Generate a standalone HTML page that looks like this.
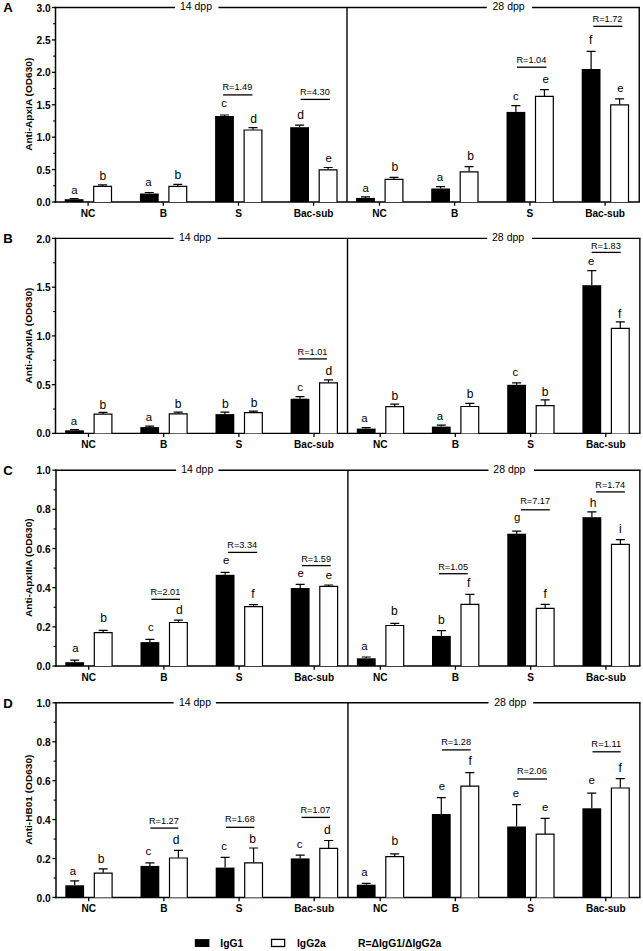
<!DOCTYPE html><html><head><meta charset="utf-8"><title>Figure</title>
<style>html,body{margin:0;padding:0;background:#fff}svg{display:block}text{font-family:"Liberation Sans",sans-serif;fill:#000}.b{font-weight:bold}</style></head><body>
<svg width="643" height="951" viewBox="0 0 643 951">
<rect width="643" height="951" fill="#fff"/>
<g>
<text class="b" x="3.2" y="12.4" font-size="13.2">A</text>
<line x1="54.75" y1="7.5" x2="175.00" y2="7.5" stroke="#000" stroke-width="1.4"/>
<line x1="218.40" y1="7.5" x2="486.80" y2="7.5" stroke="#000" stroke-width="1.4"/>
<line x1="532.00" y1="7.5" x2="639.95" y2="7.5" stroke="#000" stroke-width="1.4"/>
<text x="196.0" y="10.4" font-size="10.5" text-anchor="middle">14 dpp</text>
<text x="508.6" y="10.4" font-size="10.5" text-anchor="middle">28 dpp</text>
<line x1="55.50" y1="6.8" x2="55.50" y2="202.7" stroke="#000" stroke-width="1.5"/>
<line x1="347.00" y1="7.5" x2="347.00" y2="202.0" stroke="#000" stroke-width="1.4"/>
<line x1="639.25" y1="7.5" x2="639.25" y2="202.0" stroke="#000" stroke-width="1.4"/>
<line x1="54.75" y1="202.0" x2="639.95" y2="202.0" stroke="#000" stroke-width="1.4"/>
<line x1="51.90" y1="202.00" x2="55.50" y2="202.00" stroke="#000" stroke-width="1.3"/>
<text class="b" x="50.7" y="206.1" font-size="10.2" text-anchor="end">0.0</text>
<line x1="53.10" y1="185.79" x2="55.50" y2="185.79" stroke="#000" stroke-width="1.1"/>
<line x1="51.90" y1="169.58" x2="55.50" y2="169.58" stroke="#000" stroke-width="1.3"/>
<text class="b" x="50.7" y="173.6" font-size="10.2" text-anchor="end">0.5</text>
<line x1="53.10" y1="153.38" x2="55.50" y2="153.38" stroke="#000" stroke-width="1.1"/>
<line x1="51.90" y1="137.17" x2="55.50" y2="137.17" stroke="#000" stroke-width="1.3"/>
<text class="b" x="50.7" y="141.2" font-size="10.2" text-anchor="end">1.0</text>
<line x1="53.10" y1="120.96" x2="55.50" y2="120.96" stroke="#000" stroke-width="1.1"/>
<line x1="51.90" y1="104.75" x2="55.50" y2="104.75" stroke="#000" stroke-width="1.3"/>
<text class="b" x="50.7" y="108.8" font-size="10.2" text-anchor="end">1.5</text>
<line x1="53.10" y1="88.54" x2="55.50" y2="88.54" stroke="#000" stroke-width="1.1"/>
<line x1="51.90" y1="72.33" x2="55.50" y2="72.33" stroke="#000" stroke-width="1.3"/>
<text class="b" x="50.7" y="76.4" font-size="10.2" text-anchor="end">2.0</text>
<line x1="53.10" y1="56.13" x2="55.50" y2="56.13" stroke="#000" stroke-width="1.1"/>
<line x1="51.90" y1="39.92" x2="55.50" y2="39.92" stroke="#000" stroke-width="1.3"/>
<text class="b" x="50.7" y="44.0" font-size="10.2" text-anchor="end">2.5</text>
<line x1="53.10" y1="23.71" x2="55.50" y2="23.71" stroke="#000" stroke-width="1.1"/>
<line x1="51.90" y1="7.50" x2="55.50" y2="7.50" stroke="#000" stroke-width="1.3"/>
<text class="b" x="50.7" y="11.6" font-size="10.2" text-anchor="end">3.0</text>
<text class="b" transform="translate(31.5,104.3) rotate(-90) scale(1.085,1)" font-size="9.3" text-anchor="middle">Anti-ApxIA (OD630)</text>
<line x1="88.10" y1="202.0" x2="88.10" y2="205.70" stroke="#000" stroke-width="1.3"/>
<text class="b" x="88.10" y="216.7" font-size="10.1" text-anchor="middle">NC</text>
<line x1="163.30" y1="202.0" x2="163.30" y2="205.70" stroke="#000" stroke-width="1.3"/>
<text class="b" x="163.30" y="216.7" font-size="10.1" text-anchor="middle">B</text>
<line x1="238.50" y1="202.0" x2="238.50" y2="205.70" stroke="#000" stroke-width="1.3"/>
<text class="b" x="238.50" y="216.7" font-size="10.1" text-anchor="middle">S</text>
<line x1="313.60" y1="202.0" x2="313.60" y2="205.70" stroke="#000" stroke-width="1.3"/>
<text class="b" x="313.60" y="216.7" font-size="10.1" text-anchor="middle">Bac-sub</text>
<line x1="379.50" y1="202.0" x2="379.50" y2="205.70" stroke="#000" stroke-width="1.3"/>
<text class="b" x="379.50" y="216.7" font-size="10.1" text-anchor="middle">NC</text>
<line x1="454.60" y1="202.0" x2="454.60" y2="205.70" stroke="#000" stroke-width="1.3"/>
<text class="b" x="454.60" y="216.7" font-size="10.1" text-anchor="middle">B</text>
<line x1="529.90" y1="202.0" x2="529.90" y2="205.70" stroke="#000" stroke-width="1.3"/>
<text class="b" x="529.90" y="216.7" font-size="10.1" text-anchor="middle">S</text>
<line x1="605.10" y1="202.0" x2="605.10" y2="205.70" stroke="#000" stroke-width="1.3"/>
<text class="b" x="605.10" y="216.7" font-size="10.1" text-anchor="middle">Bac-sub</text>
<path d="M74.10 199.2V198.5M69.60 198.5H78.60" stroke="#000" stroke-width="1.2" fill="none"/>
<rect x="64.70" y="199.2" width="18.8" height="2.8" fill="#000"/>
<text x="74.4" y="193.5" font-size="11.4" text-anchor="middle">a</text>
<path d="M102.60 186.0V184.8M98.10 184.8H107.10" stroke="#000" stroke-width="1.2" fill="none"/>
<path d="M93.70 202.0V186.3H111.50V202.0" fill="#fff" stroke="#000" stroke-width="1.2"/>
<text x="102.8" y="179.8" font-size="12.1" text-anchor="middle">b</text>
<path d="M149.30 193.5V192.5M144.80 192.5H153.80" stroke="#000" stroke-width="1.2" fill="none"/>
<rect x="139.90" y="193.5" width="18.8" height="8.5" fill="#000"/>
<text x="148.3" y="186.0" font-size="11.4" text-anchor="middle">a</text>
<path d="M177.80 186.0V184.3M173.30 184.3H182.30" stroke="#000" stroke-width="1.2" fill="none"/>
<path d="M168.90 202.0V186.3H186.70V202.0" fill="#fff" stroke="#000" stroke-width="1.2"/>
<text x="177.9" y="179.3" font-size="12.1" text-anchor="middle">b</text>
<path d="M224.50 116.0V115.0M220.00 115.0H229.00" stroke="#000" stroke-width="1.2" fill="none"/>
<rect x="215.10" y="116.0" width="18.8" height="86.0" fill="#000"/>
<text x="224.1" y="107.3" font-size="11.4" text-anchor="middle">c</text>
<path d="M253.00 129.7V127.7M248.50 127.7H257.50" stroke="#000" stroke-width="1.2" fill="none"/>
<path d="M244.10 202.0V130.0H261.90V202.0" fill="#fff" stroke="#000" stroke-width="1.2"/>
<text x="253.5" y="122.7" font-size="12.1" text-anchor="middle">d</text>
<path d="M299.60 127.2V125.2M295.10 125.2H304.10" stroke="#000" stroke-width="1.2" fill="none"/>
<rect x="290.20" y="127.2" width="18.8" height="74.8" fill="#000"/>
<text x="300.7" y="119.0" font-size="12.1" text-anchor="middle">d</text>
<path d="M328.10 169.5V167.5M323.60 167.5H332.60" stroke="#000" stroke-width="1.2" fill="none"/>
<path d="M319.20 202.0V169.8H337.00V202.0" fill="#fff" stroke="#000" stroke-width="1.2"/>
<text x="328.6" y="161.5" font-size="11.4" text-anchor="middle">e</text>
<path d="M365.50 197.9V196.9M361.00 196.9H370.00" stroke="#000" stroke-width="1.2" fill="none"/>
<rect x="356.10" y="197.9" width="18.8" height="4.1" fill="#000"/>
<text x="365.6" y="191.7" font-size="11.4" text-anchor="middle">a</text>
<path d="M394.00 179.0V177.3M389.50 177.3H398.50" stroke="#000" stroke-width="1.2" fill="none"/>
<path d="M385.10 202.0V179.3H402.90V202.0" fill="#fff" stroke="#000" stroke-width="1.2"/>
<text x="394.8" y="171.0" font-size="12.1" text-anchor="middle">b</text>
<path d="M440.60 188.5V186.7M436.10 186.7H445.10" stroke="#000" stroke-width="1.2" fill="none"/>
<rect x="431.20" y="188.5" width="18.8" height="13.5" fill="#000"/>
<text x="440.0" y="181.0" font-size="11.4" text-anchor="middle">a</text>
<path d="M469.10 171.5V166.6M464.60 166.6H473.60" stroke="#000" stroke-width="1.2" fill="none"/>
<path d="M460.20 202.0V171.8H478.00V202.0" fill="#fff" stroke="#000" stroke-width="1.2"/>
<text x="470.6" y="160.3" font-size="12.1" text-anchor="middle">b</text>
<path d="M515.90 111.9V105.7M511.40 105.7H520.40" stroke="#000" stroke-width="1.2" fill="none"/>
<rect x="506.50" y="111.9" width="18.8" height="90.1" fill="#000"/>
<text x="515.8" y="99.5" font-size="11.4" text-anchor="middle">c</text>
<path d="M544.40 96.0V89.6M539.90 89.6H548.90" stroke="#000" stroke-width="1.2" fill="none"/>
<path d="M535.50 202.0V96.3H553.30V202.0" fill="#fff" stroke="#000" stroke-width="1.2"/>
<text x="545.7" y="83.2" font-size="11.4" text-anchor="middle">e</text>
<path d="M591.10 69.0V51.3M586.60 51.3H595.60" stroke="#000" stroke-width="1.2" fill="none"/>
<rect x="581.70" y="69.0" width="18.8" height="133.0" fill="#000"/>
<text x="590.7" y="44.3" font-size="12.1" text-anchor="middle">f</text>
<path d="M619.60 104.5V98.8M615.10 98.8H624.10" stroke="#000" stroke-width="1.2" fill="none"/>
<path d="M610.70 202.0V104.8H628.50V202.0" fill="#fff" stroke="#000" stroke-width="1.2"/>
<text x="620.3" y="92.0" font-size="11.4" text-anchor="middle">e</text>
</g>
<g>
<text class="b" x="3.2" y="243.3" font-size="13.2">B</text>
<line x1="54.75" y1="238.4" x2="173.60" y2="238.4" stroke="#000" stroke-width="1.4"/>
<line x1="217.70" y1="238.4" x2="487.20" y2="238.4" stroke="#000" stroke-width="1.4"/>
<line x1="532.00" y1="238.4" x2="640.55" y2="238.4" stroke="#000" stroke-width="1.4"/>
<text x="195.0" y="241.3" font-size="10.5" text-anchor="middle">14 dpp</text>
<text x="508.1" y="241.3" font-size="10.5" text-anchor="middle">28 dpp</text>
<line x1="55.50" y1="237.70000000000002" x2="55.50" y2="434.09999999999997" stroke="#000" stroke-width="1.5"/>
<line x1="347.50" y1="238.4" x2="347.50" y2="433.4" stroke="#000" stroke-width="1.4"/>
<line x1="639.85" y1="238.4" x2="639.85" y2="433.4" stroke="#000" stroke-width="1.4"/>
<line x1="54.75" y1="433.4" x2="640.55" y2="433.4" stroke="#000" stroke-width="1.4"/>
<line x1="51.90" y1="433.40" x2="55.50" y2="433.40" stroke="#000" stroke-width="1.3"/>
<text class="b" x="50.7" y="437.4" font-size="10.2" text-anchor="end">0.0</text>
<line x1="53.10" y1="409.02" x2="55.50" y2="409.02" stroke="#000" stroke-width="1.1"/>
<line x1="51.90" y1="384.65" x2="55.50" y2="384.65" stroke="#000" stroke-width="1.3"/>
<text class="b" x="50.7" y="388.7" font-size="10.2" text-anchor="end">0.5</text>
<line x1="53.10" y1="360.27" x2="55.50" y2="360.27" stroke="#000" stroke-width="1.1"/>
<line x1="51.90" y1="335.90" x2="55.50" y2="335.90" stroke="#000" stroke-width="1.3"/>
<text class="b" x="50.7" y="339.9" font-size="10.2" text-anchor="end">1.0</text>
<line x1="53.10" y1="311.52" x2="55.50" y2="311.52" stroke="#000" stroke-width="1.1"/>
<line x1="51.90" y1="287.15" x2="55.50" y2="287.15" stroke="#000" stroke-width="1.3"/>
<text class="b" x="50.7" y="291.2" font-size="10.2" text-anchor="end">1.5</text>
<line x1="53.10" y1="262.77" x2="55.50" y2="262.77" stroke="#000" stroke-width="1.1"/>
<line x1="51.90" y1="238.40" x2="55.50" y2="238.40" stroke="#000" stroke-width="1.3"/>
<text class="b" x="50.7" y="242.5" font-size="10.2" text-anchor="end">2.0</text>
<text class="b" transform="translate(31.5,335.5) rotate(-90) scale(1.085,1)" font-size="9.3" text-anchor="middle">Anti-ApxIIA (OD630)</text>
<line x1="88.50" y1="433.4" x2="88.50" y2="437.10" stroke="#000" stroke-width="1.3"/>
<text class="b" x="88.50" y="448.1" font-size="10.1" text-anchor="middle">NC</text>
<line x1="163.70" y1="433.4" x2="163.70" y2="437.10" stroke="#000" stroke-width="1.3"/>
<text class="b" x="163.70" y="448.1" font-size="10.1" text-anchor="middle">B</text>
<line x1="238.90" y1="433.4" x2="238.90" y2="437.10" stroke="#000" stroke-width="1.3"/>
<text class="b" x="238.90" y="448.1" font-size="10.1" text-anchor="middle">S</text>
<line x1="314.00" y1="433.4" x2="314.00" y2="437.10" stroke="#000" stroke-width="1.3"/>
<text class="b" x="314.00" y="448.1" font-size="10.1" text-anchor="middle">Bac-sub</text>
<line x1="380.20" y1="433.4" x2="380.20" y2="437.10" stroke="#000" stroke-width="1.3"/>
<text class="b" x="380.20" y="448.1" font-size="10.1" text-anchor="middle">NC</text>
<line x1="455.30" y1="433.4" x2="455.30" y2="437.10" stroke="#000" stroke-width="1.3"/>
<text class="b" x="455.30" y="448.1" font-size="10.1" text-anchor="middle">B</text>
<line x1="530.60" y1="433.4" x2="530.60" y2="437.10" stroke="#000" stroke-width="1.3"/>
<text class="b" x="530.60" y="448.1" font-size="10.1" text-anchor="middle">S</text>
<line x1="605.80" y1="433.4" x2="605.80" y2="437.10" stroke="#000" stroke-width="1.3"/>
<text class="b" x="605.80" y="448.1" font-size="10.1" text-anchor="middle">Bac-sub</text>
<path d="M74.50 430.3V429.6M70.00 429.6H79.00" stroke="#000" stroke-width="1.2" fill="none"/>
<rect x="65.10" y="430.3" width="18.8" height="3.1" fill="#000"/>
<text x="73.9" y="424.6" font-size="11.4" text-anchor="middle">a</text>
<path d="M103.00 413.9V412.4M98.50 412.4H107.50" stroke="#000" stroke-width="1.2" fill="none"/>
<path d="M94.10 433.4V414.2H111.90V433.4" fill="#fff" stroke="#000" stroke-width="1.2"/>
<text x="102.8" y="408.7" font-size="12.1" text-anchor="middle">b</text>
<path d="M149.70 427.1V426.1M145.20 426.1H154.20" stroke="#000" stroke-width="1.2" fill="none"/>
<rect x="140.30" y="427.1" width="18.8" height="6.3" fill="#000"/>
<text x="148.8" y="421.3" font-size="11.4" text-anchor="middle">a</text>
<path d="M178.20 413.6V412.1M173.70 412.1H182.70" stroke="#000" stroke-width="1.2" fill="none"/>
<path d="M169.30 433.4V413.9H187.10V433.4" fill="#fff" stroke="#000" stroke-width="1.2"/>
<text x="178.1" y="407.9" font-size="12.1" text-anchor="middle">b</text>
<path d="M224.90 414.1V412.1M220.40 412.1H229.40" stroke="#000" stroke-width="1.2" fill="none"/>
<rect x="215.50" y="414.1" width="18.8" height="19.3" fill="#000"/>
<text x="225.4" y="407.7" font-size="12.1" text-anchor="middle">b</text>
<path d="M253.40 412.4V411.1M248.90 411.1H257.90" stroke="#000" stroke-width="1.2" fill="none"/>
<path d="M244.50 433.4V412.7H262.30V433.4" fill="#fff" stroke="#000" stroke-width="1.2"/>
<text x="254.0" y="407.2" font-size="12.1" text-anchor="middle">b</text>
<path d="M300.00 398.7V396.7M295.50 396.7H304.50" stroke="#000" stroke-width="1.2" fill="none"/>
<rect x="290.60" y="398.7" width="18.8" height="34.7" fill="#000"/>
<text x="300.2" y="391.0" font-size="11.4" text-anchor="middle">c</text>
<path d="M328.50 382.5V379.8M324.00 379.8H333.00" stroke="#000" stroke-width="1.2" fill="none"/>
<path d="M319.60 433.4V382.8H337.40V433.4" fill="#fff" stroke="#000" stroke-width="1.2"/>
<text x="328.9" y="375.3" font-size="12.1" text-anchor="middle">d</text>
<path d="M366.20 428.6V427.6M361.70 427.6H370.70" stroke="#000" stroke-width="1.2" fill="none"/>
<rect x="356.80" y="428.6" width="18.8" height="4.8" fill="#000"/>
<text x="364.4" y="422.1" font-size="11.4" text-anchor="middle">a</text>
<path d="M394.70 406.4V404.2M390.20 404.2H399.20" stroke="#000" stroke-width="1.2" fill="none"/>
<path d="M385.80 433.4V406.7H403.60V433.4" fill="#fff" stroke="#000" stroke-width="1.2"/>
<text x="394.8" y="399.7" font-size="12.1" text-anchor="middle">b</text>
<path d="M441.30 426.6V425.1M436.80 425.1H445.80" stroke="#000" stroke-width="1.2" fill="none"/>
<rect x="431.90" y="426.6" width="18.8" height="6.8" fill="#000"/>
<text x="440.0" y="419.6" font-size="11.4" text-anchor="middle">a</text>
<path d="M469.80 406.2V403.4M465.30 403.4H474.30" stroke="#000" stroke-width="1.2" fill="none"/>
<path d="M460.90 433.4V406.5H478.70V433.4" fill="#fff" stroke="#000" stroke-width="1.2"/>
<text x="470.1" y="397.7" font-size="12.1" text-anchor="middle">b</text>
<path d="M516.60 384.8V382.8M512.10 382.8H521.10" stroke="#000" stroke-width="1.2" fill="none"/>
<rect x="507.20" y="384.8" width="18.8" height="48.6" fill="#000"/>
<text x="515.3" y="375.5" font-size="11.4" text-anchor="middle">c</text>
<path d="M545.10 405.4V399.9M540.60 399.9H549.60" stroke="#000" stroke-width="1.2" fill="none"/>
<path d="M536.20 433.4V405.7H554.00V433.4" fill="#fff" stroke="#000" stroke-width="1.2"/>
<text x="545.2" y="396.2" font-size="12.1" text-anchor="middle">b</text>
<path d="M591.80 285.2V270.6M587.30 270.6H596.30" stroke="#000" stroke-width="1.2" fill="none"/>
<rect x="582.40" y="285.2" width="18.8" height="148.2" fill="#000"/>
<text x="591.2" y="264.9" font-size="11.4" text-anchor="middle">e</text>
<path d="M620.30 328.0V321.8M615.80 321.8H624.80" stroke="#000" stroke-width="1.2" fill="none"/>
<path d="M611.40 433.4V328.3H629.20V433.4" fill="#fff" stroke="#000" stroke-width="1.2"/>
<text x="619.8" y="317.6" font-size="12.1" text-anchor="middle">f</text>
</g>
<g>
<text class="b" x="3.2" y="475.1" font-size="13.2">C</text>
<line x1="55.25" y1="470.2" x2="176.10" y2="470.2" stroke="#000" stroke-width="1.4"/>
<line x1="218.40" y1="470.2" x2="488.50" y2="470.2" stroke="#000" stroke-width="1.4"/>
<line x1="534.00" y1="470.2" x2="640.55" y2="470.2" stroke="#000" stroke-width="1.4"/>
<text x="197.2" y="473.1" font-size="10.5" text-anchor="middle">14 dpp</text>
<text x="509.4" y="473.1" font-size="10.5" text-anchor="middle">28 dpp</text>
<line x1="56.00" y1="469.5" x2="56.00" y2="666.7" stroke="#000" stroke-width="1.5"/>
<line x1="347.90" y1="470.2" x2="347.90" y2="666.0" stroke="#000" stroke-width="1.4"/>
<line x1="639.85" y1="470.2" x2="639.85" y2="666.0" stroke="#000" stroke-width="1.4"/>
<line x1="55.25" y1="666.0" x2="640.55" y2="666.0" stroke="#000" stroke-width="1.4"/>
<line x1="52.40" y1="666.00" x2="56.00" y2="666.00" stroke="#000" stroke-width="1.3"/>
<text class="b" x="50.7" y="670.0" font-size="10.2" text-anchor="end">0.0</text>
<line x1="53.60" y1="646.42" x2="56.00" y2="646.42" stroke="#000" stroke-width="1.1"/>
<line x1="52.40" y1="626.84" x2="56.00" y2="626.84" stroke="#000" stroke-width="1.3"/>
<text class="b" x="50.7" y="630.9" font-size="10.2" text-anchor="end">0.2</text>
<line x1="53.60" y1="607.26" x2="56.00" y2="607.26" stroke="#000" stroke-width="1.1"/>
<line x1="52.40" y1="587.68" x2="56.00" y2="587.68" stroke="#000" stroke-width="1.3"/>
<text class="b" x="50.7" y="591.7" font-size="10.2" text-anchor="end">0.4</text>
<line x1="53.60" y1="568.10" x2="56.00" y2="568.10" stroke="#000" stroke-width="1.1"/>
<line x1="52.40" y1="548.52" x2="56.00" y2="548.52" stroke="#000" stroke-width="1.3"/>
<text class="b" x="50.7" y="552.6" font-size="10.2" text-anchor="end">0.6</text>
<line x1="53.60" y1="528.94" x2="56.00" y2="528.94" stroke="#000" stroke-width="1.1"/>
<line x1="52.40" y1="509.36" x2="56.00" y2="509.36" stroke="#000" stroke-width="1.3"/>
<text class="b" x="50.7" y="513.4" font-size="10.2" text-anchor="end">0.8</text>
<line x1="53.60" y1="489.78" x2="56.00" y2="489.78" stroke="#000" stroke-width="1.1"/>
<line x1="52.40" y1="470.20" x2="56.00" y2="470.20" stroke="#000" stroke-width="1.3"/>
<text class="b" x="50.7" y="474.2" font-size="10.2" text-anchor="end">1.0</text>
<text class="b" transform="translate(31.5,567.7) rotate(-90) scale(1.085,1)" font-size="9.3" text-anchor="middle">Anti-ApxIIIA (OD630)</text>
<line x1="88.70" y1="666.0" x2="88.70" y2="669.70" stroke="#000" stroke-width="1.3"/>
<text class="b" x="88.70" y="680.7" font-size="10.1" text-anchor="middle">NC</text>
<line x1="163.90" y1="666.0" x2="163.90" y2="669.70" stroke="#000" stroke-width="1.3"/>
<text class="b" x="163.90" y="680.7" font-size="10.1" text-anchor="middle">B</text>
<line x1="239.10" y1="666.0" x2="239.10" y2="669.70" stroke="#000" stroke-width="1.3"/>
<text class="b" x="239.10" y="680.7" font-size="10.1" text-anchor="middle">S</text>
<line x1="314.20" y1="666.0" x2="314.20" y2="669.70" stroke="#000" stroke-width="1.3"/>
<text class="b" x="314.20" y="680.7" font-size="10.1" text-anchor="middle">Bac-sub</text>
<line x1="380.30" y1="666.0" x2="380.30" y2="669.70" stroke="#000" stroke-width="1.3"/>
<text class="b" x="380.30" y="680.7" font-size="10.1" text-anchor="middle">NC</text>
<line x1="455.40" y1="666.0" x2="455.40" y2="669.70" stroke="#000" stroke-width="1.3"/>
<text class="b" x="455.40" y="680.7" font-size="10.1" text-anchor="middle">B</text>
<line x1="530.70" y1="666.0" x2="530.70" y2="669.70" stroke="#000" stroke-width="1.3"/>
<text class="b" x="530.70" y="680.7" font-size="10.1" text-anchor="middle">S</text>
<line x1="605.90" y1="666.0" x2="605.90" y2="669.70" stroke="#000" stroke-width="1.3"/>
<text class="b" x="605.90" y="680.7" font-size="10.1" text-anchor="middle">Bac-sub</text>
<path d="M74.70 662.2V660.2M70.20 660.2H79.20" stroke="#000" stroke-width="1.2" fill="none"/>
<rect x="65.30" y="662.2" width="18.8" height="3.8" fill="#000"/>
<text x="75.4" y="652.0" font-size="11.4" text-anchor="middle">a</text>
<path d="M103.20 632.4V630.4M98.70 630.4H107.70" stroke="#000" stroke-width="1.2" fill="none"/>
<path d="M94.30 666.0V632.7H112.10V666.0" fill="#fff" stroke="#000" stroke-width="1.2"/>
<text x="103.5" y="622.2" font-size="12.1" text-anchor="middle">b</text>
<path d="M149.90 642.1V639.4M145.40 639.4H154.40" stroke="#000" stroke-width="1.2" fill="none"/>
<rect x="140.50" y="642.1" width="18.8" height="23.9" fill="#000"/>
<text x="150.8" y="630.9" font-size="11.4" text-anchor="middle">c</text>
<path d="M178.40 622.2V620.2M173.90 620.2H182.90" stroke="#000" stroke-width="1.2" fill="none"/>
<path d="M169.50 666.0V622.5H187.30V666.0" fill="#fff" stroke="#000" stroke-width="1.2"/>
<text x="179.4" y="613.5" font-size="12.1" text-anchor="middle">d</text>
<path d="M225.10 574.8V572.3M220.60 572.3H229.60" stroke="#000" stroke-width="1.2" fill="none"/>
<rect x="215.70" y="574.8" width="18.8" height="91.2" fill="#000"/>
<text x="226.1" y="563.6" font-size="11.4" text-anchor="middle">e</text>
<path d="M253.60 606.4V604.7M249.10 604.7H258.10" stroke="#000" stroke-width="1.2" fill="none"/>
<path d="M244.70 666.0V606.7H262.50V666.0" fill="#fff" stroke="#000" stroke-width="1.2"/>
<text x="253.0" y="597.7" font-size="12.1" text-anchor="middle">f</text>
<path d="M300.20 588.0V584.3M295.70 584.3H304.70" stroke="#000" stroke-width="1.2" fill="none"/>
<rect x="290.80" y="588.0" width="18.8" height="78.0" fill="#000"/>
<text x="300.7" y="576.6" font-size="11.4" text-anchor="middle">e</text>
<path d="M328.70 586.0V585.0M324.20 585.0H333.20" stroke="#000" stroke-width="1.2" fill="none"/>
<path d="M319.80 666.0V586.3H337.60V666.0" fill="#fff" stroke="#000" stroke-width="1.2"/>
<text x="328.9" y="578.6" font-size="11.4" text-anchor="middle">e</text>
<path d="M366.30 658.3V657.0M361.80 657.0H370.80" stroke="#000" stroke-width="1.2" fill="none"/>
<rect x="356.90" y="658.3" width="18.8" height="7.7" fill="#000"/>
<text x="364.4" y="650.0" font-size="11.4" text-anchor="middle">a</text>
<path d="M394.80 625.2V623.4M390.30 623.4H399.30" stroke="#000" stroke-width="1.2" fill="none"/>
<path d="M385.90 666.0V625.5H403.70V666.0" fill="#fff" stroke="#000" stroke-width="1.2"/>
<text x="394.3" y="614.7" font-size="12.1" text-anchor="middle">b</text>
<path d="M441.40 635.9V630.6M436.90 630.6H445.90" stroke="#000" stroke-width="1.2" fill="none"/>
<rect x="432.00" y="635.9" width="18.8" height="30.1" fill="#000"/>
<text x="441.3" y="624.2" font-size="12.1" text-anchor="middle">b</text>
<path d="M469.90 604.0V594.3M465.40 594.3H474.40" stroke="#000" stroke-width="1.2" fill="none"/>
<path d="M461.00 666.0V604.3H478.80V666.0" fill="#fff" stroke="#000" stroke-width="1.2"/>
<text x="468.6" y="586.9" font-size="12.1" text-anchor="middle">f</text>
<path d="M516.70 533.7V531.2M512.20 531.2H521.20" stroke="#000" stroke-width="1.2" fill="none"/>
<rect x="507.30" y="533.7" width="18.8" height="132.3" fill="#000"/>
<text x="517.1" y="520.5" font-size="11.4" text-anchor="middle">g</text>
<path d="M545.20 608.0V604.3M540.70 604.3H549.70" stroke="#000" stroke-width="1.2" fill="none"/>
<path d="M536.30 666.0V608.3H554.10V666.0" fill="#fff" stroke="#000" stroke-width="1.2"/>
<text x="545.2" y="597.6" font-size="12.1" text-anchor="middle">f</text>
<path d="M591.90 517.2V511.8M587.40 511.8H596.40" stroke="#000" stroke-width="1.2" fill="none"/>
<rect x="582.50" y="517.2" width="18.8" height="148.8" fill="#000"/>
<text x="593.2" y="506.8" font-size="12.1" text-anchor="middle">h</text>
<path d="M620.40 544.1V539.6M615.90 539.6H624.90" stroke="#000" stroke-width="1.2" fill="none"/>
<path d="M611.50 666.0V544.4H629.30V666.0" fill="#fff" stroke="#000" stroke-width="1.2"/>
<text x="620.3" y="532.9" font-size="12.1" text-anchor="middle">i</text>
</g>
<g>
<text class="b" x="3.2" y="707.7" font-size="13.2">D</text>
<line x1="55.25" y1="702.8" x2="173.60" y2="702.8" stroke="#000" stroke-width="1.4"/>
<line x1="215.90" y1="702.8" x2="488.50" y2="702.8" stroke="#000" stroke-width="1.4"/>
<line x1="533.20" y1="702.8" x2="640.55" y2="702.8" stroke="#000" stroke-width="1.4"/>
<text x="195.0" y="705.7" font-size="10.5" text-anchor="middle">14 dpp</text>
<text x="510.2" y="705.7" font-size="10.5" text-anchor="middle">28 dpp</text>
<line x1="56.00" y1="702.0999999999999" x2="56.00" y2="898.1500000000001" stroke="#000" stroke-width="1.5"/>
<line x1="347.95" y1="702.8" x2="347.95" y2="897.45" stroke="#000" stroke-width="1.4"/>
<line x1="639.85" y1="702.8" x2="639.85" y2="897.45" stroke="#000" stroke-width="1.4"/>
<line x1="55.25" y1="897.45" x2="640.55" y2="897.45" stroke="#000" stroke-width="1.4"/>
<line x1="52.40" y1="897.45" x2="56.00" y2="897.45" stroke="#000" stroke-width="1.3"/>
<text class="b" x="50.7" y="901.5" font-size="10.2" text-anchor="end">0.0</text>
<line x1="53.60" y1="877.99" x2="56.00" y2="877.99" stroke="#000" stroke-width="1.1"/>
<line x1="52.40" y1="858.52" x2="56.00" y2="858.52" stroke="#000" stroke-width="1.3"/>
<text class="b" x="50.7" y="862.6" font-size="10.2" text-anchor="end">0.2</text>
<line x1="53.60" y1="839.05" x2="56.00" y2="839.05" stroke="#000" stroke-width="1.1"/>
<line x1="52.40" y1="819.59" x2="56.00" y2="819.59" stroke="#000" stroke-width="1.3"/>
<text class="b" x="50.7" y="823.6" font-size="10.2" text-anchor="end">0.4</text>
<line x1="53.60" y1="800.12" x2="56.00" y2="800.12" stroke="#000" stroke-width="1.1"/>
<line x1="52.40" y1="780.66" x2="56.00" y2="780.66" stroke="#000" stroke-width="1.3"/>
<text class="b" x="50.7" y="784.7" font-size="10.2" text-anchor="end">0.6</text>
<line x1="53.60" y1="761.19" x2="56.00" y2="761.19" stroke="#000" stroke-width="1.1"/>
<line x1="52.40" y1="741.73" x2="56.00" y2="741.73" stroke="#000" stroke-width="1.3"/>
<text class="b" x="50.7" y="745.8" font-size="10.2" text-anchor="end">0.8</text>
<line x1="53.60" y1="722.26" x2="56.00" y2="722.26" stroke="#000" stroke-width="1.1"/>
<line x1="52.40" y1="702.80" x2="56.00" y2="702.80" stroke="#000" stroke-width="1.3"/>
<text class="b" x="50.7" y="706.8" font-size="10.2" text-anchor="end">1.0</text>
<text class="b" transform="translate(31.5,799.7) rotate(-90) scale(1.085,1)" font-size="9.3" text-anchor="middle">Anti-HB01 (OD630)</text>
<line x1="88.70" y1="897.45" x2="88.70" y2="901.15" stroke="#000" stroke-width="1.3"/>
<text class="b" x="88.70" y="912.2" font-size="10.1" text-anchor="middle">NC</text>
<line x1="163.90" y1="897.45" x2="163.90" y2="901.15" stroke="#000" stroke-width="1.3"/>
<text class="b" x="163.90" y="912.2" font-size="10.1" text-anchor="middle">B</text>
<line x1="239.10" y1="897.45" x2="239.10" y2="901.15" stroke="#000" stroke-width="1.3"/>
<text class="b" x="239.10" y="912.2" font-size="10.1" text-anchor="middle">S</text>
<line x1="314.20" y1="897.45" x2="314.20" y2="901.15" stroke="#000" stroke-width="1.3"/>
<text class="b" x="314.20" y="912.2" font-size="10.1" text-anchor="middle">Bac-sub</text>
<line x1="380.20" y1="897.45" x2="380.20" y2="901.15" stroke="#000" stroke-width="1.3"/>
<text class="b" x="380.20" y="912.2" font-size="10.1" text-anchor="middle">NC</text>
<line x1="455.30" y1="897.45" x2="455.30" y2="901.15" stroke="#000" stroke-width="1.3"/>
<text class="b" x="455.30" y="912.2" font-size="10.1" text-anchor="middle">B</text>
<line x1="530.60" y1="897.45" x2="530.60" y2="901.15" stroke="#000" stroke-width="1.3"/>
<text class="b" x="530.60" y="912.2" font-size="10.1" text-anchor="middle">S</text>
<line x1="605.80" y1="897.45" x2="605.80" y2="901.15" stroke="#000" stroke-width="1.3"/>
<text class="b" x="605.80" y="912.2" font-size="10.1" text-anchor="middle">Bac-sub</text>
<path d="M74.70 885.3V880.8M70.20 880.8H79.20" stroke="#000" stroke-width="1.2" fill="none"/>
<rect x="65.30" y="885.3" width="18.8" height="12.2" fill="#000"/>
<text x="72.9" y="874.6" font-size="11.4" text-anchor="middle">a</text>
<path d="M103.20 872.8V868.9M98.70 868.9H107.70" stroke="#000" stroke-width="1.2" fill="none"/>
<path d="M94.30 897.45V873.1H112.10V897.45" fill="#fff" stroke="#000" stroke-width="1.2"/>
<text x="101.0" y="862.6" font-size="12.1" text-anchor="middle">b</text>
<path d="M149.90 865.9V862.9M145.40 862.9H154.40" stroke="#000" stroke-width="1.2" fill="none"/>
<rect x="140.50" y="865.9" width="18.8" height="31.6" fill="#000"/>
<text x="148.3" y="855.4" font-size="11.4" text-anchor="middle">c</text>
<path d="M178.40 857.7V850.4M173.90 850.4H182.90" stroke="#000" stroke-width="1.2" fill="none"/>
<path d="M169.50 897.45V858.0H187.30V897.45" fill="#fff" stroke="#000" stroke-width="1.2"/>
<text x="176.1" y="843.5" font-size="12.1" text-anchor="middle">d</text>
<path d="M225.10 867.6V857.4M220.60 857.4H229.60" stroke="#000" stroke-width="1.2" fill="none"/>
<rect x="215.70" y="867.6" width="18.8" height="29.9" fill="#000"/>
<text x="224.1" y="849.7" font-size="11.4" text-anchor="middle">c</text>
<path d="M253.60 862.6V848.0M249.10 848.0H258.10" stroke="#000" stroke-width="1.2" fill="none"/>
<path d="M244.70 897.45V862.9H262.50V897.45" fill="#fff" stroke="#000" stroke-width="1.2"/>
<text x="252.7" y="842.7" font-size="12.1" text-anchor="middle">b</text>
<path d="M300.20 858.4V855.2M295.70 855.2H304.70" stroke="#000" stroke-width="1.2" fill="none"/>
<rect x="290.80" y="858.4" width="18.8" height="39.1" fill="#000"/>
<text x="299.5" y="847.7" font-size="11.4" text-anchor="middle">c</text>
<path d="M328.70 848.0V840.5M324.20 840.5H333.20" stroke="#000" stroke-width="1.2" fill="none"/>
<path d="M319.80 897.45V848.3H337.60V897.45" fill="#fff" stroke="#000" stroke-width="1.2"/>
<text x="327.4" y="833.5" font-size="12.1" text-anchor="middle">d</text>
<path d="M366.20 884.7V883.4M361.70 883.4H370.70" stroke="#000" stroke-width="1.2" fill="none"/>
<rect x="356.80" y="884.7" width="18.8" height="12.8" fill="#000"/>
<text x="364.4" y="876.2" font-size="11.4" text-anchor="middle">a</text>
<path d="M394.70 856.3V853.8M390.20 853.8H399.20" stroke="#000" stroke-width="1.2" fill="none"/>
<path d="M385.80 897.45V856.6H403.60V897.45" fill="#fff" stroke="#000" stroke-width="1.2"/>
<text x="394.8" y="845.1" font-size="12.1" text-anchor="middle">b</text>
<path d="M441.30 814.0V797.6M436.80 797.6H445.80" stroke="#000" stroke-width="1.2" fill="none"/>
<rect x="431.90" y="814.0" width="18.8" height="83.5" fill="#000"/>
<text x="442.0" y="790.4" font-size="11.4" text-anchor="middle">e</text>
<path d="M469.80 785.9V772.7M465.30 772.7H474.30" stroke="#000" stroke-width="1.2" fill="none"/>
<path d="M460.90 897.45V786.2H478.70V897.45" fill="#fff" stroke="#000" stroke-width="1.2"/>
<text x="470.1" y="765.3" font-size="12.1" text-anchor="middle">f</text>
<path d="M516.60 826.5V804.6M512.10 804.6H521.10" stroke="#000" stroke-width="1.2" fill="none"/>
<rect x="507.20" y="826.5" width="18.8" height="71.0" fill="#000"/>
<text x="515.8" y="796.6" font-size="11.4" text-anchor="middle">e</text>
<path d="M545.10 833.9V818.3M540.60 818.3H549.60" stroke="#000" stroke-width="1.2" fill="none"/>
<path d="M536.20 897.45V834.2H554.00V897.45" fill="#fff" stroke="#000" stroke-width="1.2"/>
<text x="545.2" y="810.8" font-size="11.4" text-anchor="middle">e</text>
<path d="M591.80 808.3V793.1M587.30 793.1H596.30" stroke="#000" stroke-width="1.2" fill="none"/>
<rect x="582.40" y="808.3" width="18.8" height="89.2" fill="#000"/>
<text x="591.7" y="784.2" font-size="11.4" text-anchor="middle">e</text>
<path d="M620.30 787.7V778.7M615.80 778.7H624.80" stroke="#000" stroke-width="1.2" fill="none"/>
<path d="M611.40 897.45V788.0H629.20V897.45" fill="#fff" stroke="#000" stroke-width="1.2"/>
<text x="620.3" y="772.2" font-size="12.1" text-anchor="middle">f</text>
</g>
<text x="237.4" y="89.9" font-size="9.9" text-anchor="middle" textLength="29.9" lengthAdjust="spacingAndGlyphs">R=1.49</text>
<line x1="223.1" y1="94.9" x2="252.4" y2="94.9" stroke="#000" stroke-width="1.3"/>
<text x="314.9" y="94.9" font-size="9.9" text-anchor="middle" textLength="29.9" lengthAdjust="spacingAndGlyphs">R=4.30</text>
<line x1="300.6" y1="99.4" x2="329.9" y2="99.4" stroke="#000" stroke-width="1.3"/>
<text x="531.4" y="62.7" font-size="9.9" text-anchor="middle" textLength="29.9" lengthAdjust="spacingAndGlyphs">R=1.04</text>
<line x1="517.0" y1="67.2" x2="546.4" y2="67.2" stroke="#000" stroke-width="1.3"/>
<text x="607.5" y="22.4" font-size="9.9" text-anchor="middle" textLength="29.9" lengthAdjust="spacingAndGlyphs">R=1.72</text>
<line x1="593.3" y1="26.3" x2="622.3" y2="26.3" stroke="#000" stroke-width="1.3"/>
<text x="312.5" y="355.4" font-size="9.9" text-anchor="middle" textLength="29.9" lengthAdjust="spacingAndGlyphs">R=1.01</text>
<line x1="298.6" y1="358.9" x2="327.0" y2="358.9" stroke="#000" stroke-width="1.3"/>
<text x="605.9" y="248.7" font-size="9.9" text-anchor="middle" textLength="29.9" lengthAdjust="spacingAndGlyphs">R=1.83</text>
<line x1="591.6" y1="252.4" x2="620.7" y2="252.4" stroke="#000" stroke-width="1.3"/>
<text x="165.4" y="594.8" font-size="9.9" text-anchor="middle" textLength="29.9" lengthAdjust="spacingAndGlyphs">R=2.01</text>
<line x1="151.4" y1="599.3" x2="180.0" y2="599.3" stroke="#000" stroke-width="1.3"/>
<text x="242.2" y="548.2" font-size="9.9" text-anchor="middle" textLength="29.9" lengthAdjust="spacingAndGlyphs">R=3.34</text>
<line x1="227.9" y1="552.4" x2="257.2" y2="552.4" stroke="#000" stroke-width="1.3"/>
<text x="316.1" y="561.6" font-size="9.9" text-anchor="middle" textLength="29.9" lengthAdjust="spacingAndGlyphs">R=1.59</text>
<line x1="302.0" y1="565.6" x2="330.7" y2="565.6" stroke="#000" stroke-width="1.3"/>
<text x="453.1" y="569.5" font-size="9.9" text-anchor="middle" textLength="29.9" lengthAdjust="spacingAndGlyphs">R=1.05</text>
<line x1="439.0" y1="573.7" x2="467.7" y2="573.7" stroke="#000" stroke-width="1.3"/>
<text x="535.1" y="503.6" font-size="9.9" text-anchor="middle" textLength="29.9" lengthAdjust="spacingAndGlyphs">R=7.17</text>
<line x1="521.0" y1="509.8" x2="549.8" y2="509.8" stroke="#000" stroke-width="1.3"/>
<text x="610.2" y="488.1" font-size="9.9" text-anchor="middle" textLength="29.9" lengthAdjust="spacingAndGlyphs">R=1.74</text>
<line x1="596.2" y1="491.9" x2="624.9" y2="491.9" stroke="#000" stroke-width="1.3"/>
<text x="163.9" y="823.6" font-size="9.9" text-anchor="middle" textLength="29.9" lengthAdjust="spacingAndGlyphs">R=1.27</text>
<line x1="150.3" y1="828.1" x2="178.2" y2="828.1" stroke="#000" stroke-width="1.3"/>
<text x="239.9" y="822.3" font-size="9.9" text-anchor="middle" textLength="29.9" lengthAdjust="spacingAndGlyphs">R=1.68</text>
<line x1="226.1" y1="827.3" x2="254.3" y2="827.3" stroke="#000" stroke-width="1.3"/>
<text x="315.4" y="813.1" font-size="9.9" text-anchor="middle" textLength="29.9" lengthAdjust="spacingAndGlyphs">R=1.07</text>
<line x1="301.5" y1="817.4" x2="330.0" y2="817.4" stroke="#000" stroke-width="1.3"/>
<text x="456.1" y="744.9" font-size="9.9" text-anchor="middle" textLength="29.9" lengthAdjust="spacingAndGlyphs">R=1.28</text>
<line x1="442.0" y1="749.9" x2="470.7" y2="749.9" stroke="#000" stroke-width="1.3"/>
<text x="531.9" y="774.2" font-size="9.9" text-anchor="middle" textLength="29.9" lengthAdjust="spacingAndGlyphs">R=2.06</text>
<line x1="517.3" y1="779.0" x2="547.0" y2="779.0" stroke="#000" stroke-width="1.3"/>
<text x="606.3" y="746.9" font-size="9.9" text-anchor="middle" textLength="29.9" lengthAdjust="spacingAndGlyphs">R=1.11</text>
<line x1="592.5" y1="751.8" x2="620.7" y2="751.8" stroke="#000" stroke-width="1.3"/>
<rect x="194.8" y="939.1" width="14.6" height="7.9" fill="#000"/>
<text class="b" x="220.3" y="946.6" font-size="10.3">IgG1</text>
<rect x="271.55" y="939.4" width="13.1" height="7.1" fill="#fff" stroke="#000" stroke-width="1.3"/>
<text class="b" x="297.0" y="946.6" font-size="10.3">IgG2a</text>
<text class="b" x="357.9" y="946.6" font-size="10.4">R=ΔIgG1/ΔIgG2a</text>
</svg></body></html>
